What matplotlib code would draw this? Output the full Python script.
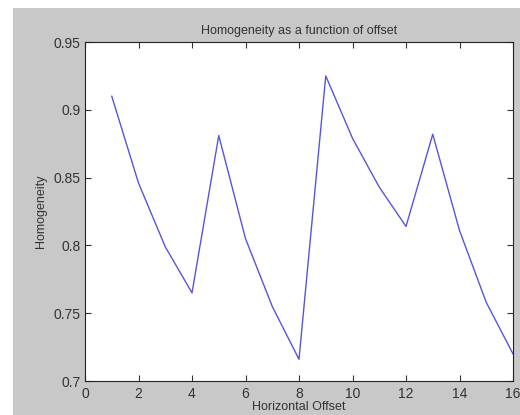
import numpy as np
import matplotlib
matplotlib.use('Agg')
import matplotlib.pyplot as plt
from matplotlib.patches import Rectangle

plt.rcParams['font.family'] = ['Liberation Sans', 'DejaVu Sans']

offset = [1, 2, 3, 4, 5, 6, 7, 8, 9, 10, 11, 12, 13, 14, 15, 16]
homogeneity = [0.910, 0.846, 0.799, 0.765, 0.881, 0.805, 0.755, 0.716,
               0.925, 0.879, 0.843, 0.814, 0.882, 0.811, 0.758, 0.720]
xticks = [0, 2, 4, 6, 8, 10, 12, 14, 16]
yticks = [0.7, 0.75, 0.8, 0.85, 0.9, 0.95]
ytick_labels = ['0.7', '0.75', '0.8', '0.85', '0.9', '0.95']

fig = plt.figure(figsize=(5.2, 4.15), dpi=100)
fig.patch.set_facecolor('white')
# matlab style grey window behind the axes
fig.add_artist(Rectangle((13 / 520, 0), 1, 407 / 415, transform=fig.transFigure,
                         facecolor='#c8c8c8', edgecolor='none', zorder=-10))

ax = fig.add_axes([85 / 520, 34 / 415, 428 / 520, 339 / 415])
ax.set_zorder(1)
ax.set_facecolor('white')
ax.plot(offset, homogeneity, color='#5555e0', lw=1.0)

ax.set_xlim(0, 16)
ax.set_ylim(0.7, 0.95)
ax.set_xticks(xticks)
ax.set_yticks(yticks)
ax.set_yticklabels(ytick_labels)
ax.tick_params(direction='in', top=True, right=True, labelsize=10, length=4,
               width=0.8, colors='#333333')
ax.tick_params(axis='x', pad=4)
ax.tick_params(axis='y', pad=3)
for s in ax.spines.values():
    s.set_linewidth(0.8)
    s.set_color('#222222')

ax.set_title('Homogeneity as a function of offset', fontsize=9, color='#333333', pad=6)
ax.set_xlabel('Horizontal Offset', fontsize=9, color='#333333', labelpad=0)
ax.set_ylabel('Homogeneity', fontsize=9, color='#333333', labelpad=5)

fig.savefig('out.png', dpi=100)
